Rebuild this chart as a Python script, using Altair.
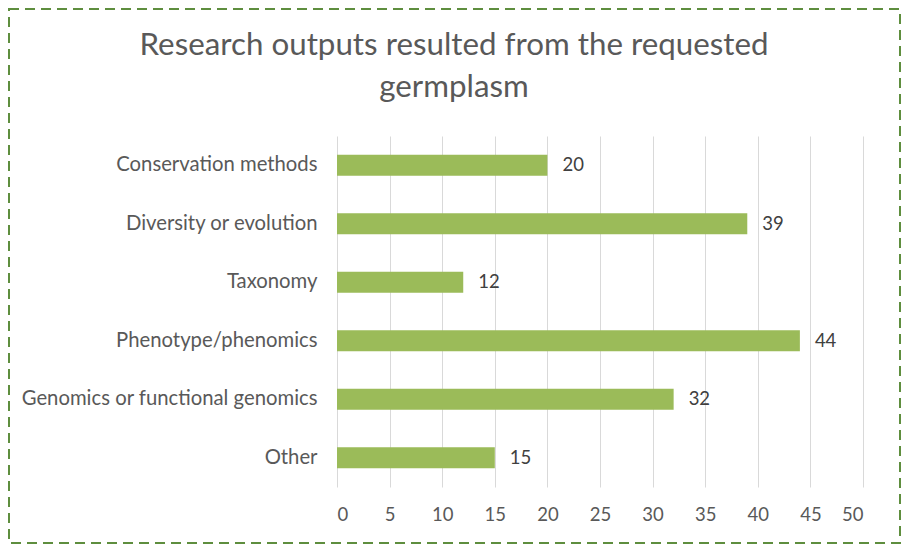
import altair as alt
import pandas as pd

categories = ["Conservation methods", "Diversity or evolution", "Taxonomy",
              "Phenotype/phenomics", "Genomics or functional genomics", "Other"]
counts = [20, 39, 12, 44, 32, 15]
x_ticks = [0, 5, 10, 15, 20, 25, 30, 35, 40, 45, 50]
title_lines = ["Research outputs resulted from the requested", "germplasm"]

df = pd.DataFrame({"category": categories, "count": counts})
one = pd.DataFrame({"b": [0]})

FONT = "Lato"
TEXT = "#595959"

y_enc = alt.Y("category:N", sort=categories,
              scale=alt.Scale(paddingInner=0.64, paddingOuter=0.32),
              axis=alt.Axis(title=None, domain=False, ticks=False, labelPadding=20,
                            labelFontSize=20.3, labelColor=TEXT, labelFont=FONT,
                            labelLimit=400))
x_enc = alt.X("count:Q", scale=alt.Scale(domain=[0, 50], nice=False),
              axis=alt.Axis(title=None, values=x_ticks, grid=True, gridColor="#D9D9D9",
                            domain=False, ticks=False, labelPadding=18,
                            labelFontSize=18.5, labelColor=TEXT, labelFont=FONT))

bars = alt.Chart(df).mark_bar(color="#9BBB59").encode(x=x_enc, y=y_enc)
labels = alt.Chart(df).mark_text(align="left", baseline="middle", dx=15,
                                 fontSize=18.5, font=FONT, color="#404040").encode(
    x="count:Q", y=alt.Y("category:N", sort=categories), text="count:Q")

border = alt.Chart(one).mark_rect(
    filled=False, stroke="#5E8E3E", strokeWidth=2, strokeDash=[10, 6]).encode(
    x=alt.value(-328), x2=alt.value(563), y=alt.value(-127), y2=alt.value(407))

title = alt.Chart(one).mark_text(
    text=title_lines, fontSize=31.3, font=FONT, color=TEXT, align="center",
    baseline="alphabetic", lineHeight=42).encode(
    x=alt.value(117), y=alt.value(-81))

chart = alt.layer(border, title, bars, labels).properties(
    width=526, height=351,
    autosize=alt.AutoSizeParams(type="none"),
    padding={"left": 329, "top": 128, "right": 38, "bottom": 58},
).configure_view(stroke=None)

chart.save("out.html", embed_options={"renderer": "svg", "actions": False})
